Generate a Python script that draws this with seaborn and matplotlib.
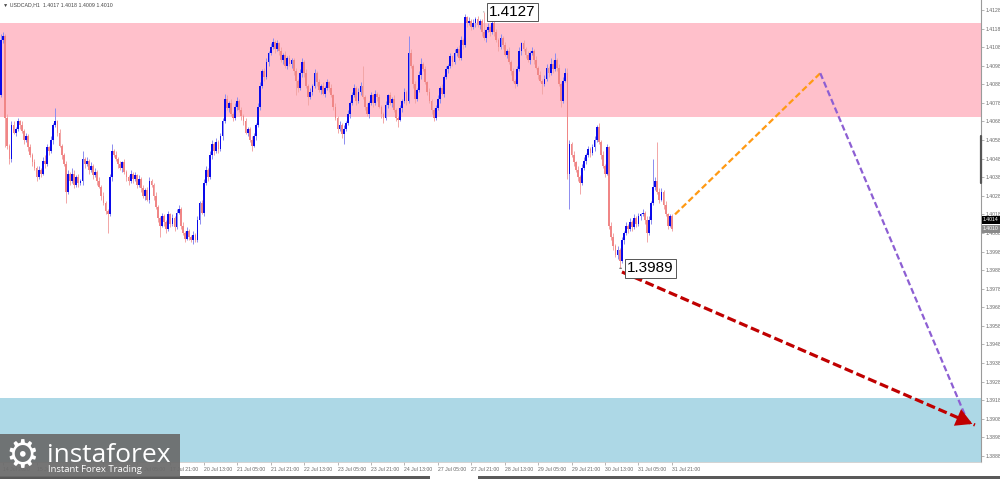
import numpy as np
import pandas as pd
import matplotlib.pyplot as plt
from matplotlib.patches import Rectangle
import seaborn as sns

# USDCAD H1 candles, 14 Jul 13:00 .. 31 Jul 21:00
first_open = 1.4082
closes = [
    1.4112, 1.4114, 1.4070, 1.4055, 1.4048, 1.4066, 1.4062, 1.4064, 1.4068, 1.4066,
    1.4063, 1.4058, 1.4060, 1.4054, 1.4050, 1.4046, 1.4043, 1.4038,
    1.4042, 1.4040, 1.4047, 1.4045, 1.4054, 1.4052, 1.4058, 1.4066, 1.4068,
    1.4062, 1.4055, 1.4050, 1.4045, 1.4030,
    1.4040, 1.4036, 1.4040, 1.4034, 1.4038, 1.4035, 1.4036, 1.4048,
    1.4045, 1.4047, 1.4042, 1.4044, 1.4039, 1.4041, 1.4036, 1.4033,
    1.4028, 1.4024, 1.4020, 1.4018, 1.4038, 1.4052, 1.4050,
    1.4048, 1.4045, 1.4043, 1.4046, 1.4041, 1.4038,
    1.4036, 1.4040, 1.4037, 1.4039, 1.4034, 1.4037,
    1.4032, 1.4028, 1.4031, 1.4026, 1.4036, 1.4034,
    1.4028, 1.4022, 1.4016, 1.4012, 1.4017, 1.4014,
    1.4010, 1.4018, 1.4013, 1.4016, 1.4011, 1.4019, 1.4021, 1.4012,
    1.4008, 1.4005, 1.4009, 1.4006, 1.4004, 1.4007, 1.4004,
    1.4015, 1.4024, 1.4019, 1.4035,
    1.4042, 1.4038, 1.4050, 1.4056,
    1.4052, 1.4057, 1.4053, 1.4060, 1.4068, 1.4080,
    1.4075, 1.4078, 1.4072, 1.4070, 1.4076, 1.4079, 1.4074, 1.4071,
    1.4068, 1.4062, 1.4064, 1.4058, 1.4055,
    1.4060, 1.4066, 1.4076, 1.4087, 1.4095, 1.4092, 1.4100, 1.4105, 1.4108,
    1.4111, 1.4107, 1.4110, 1.4106,
    1.4101, 1.4104, 1.4098, 1.4102, 1.4099, 1.4101,
    1.4095, 1.4090, 1.4086, 1.4094, 1.4100,
    1.4094, 1.4087, 1.4081, 1.4084, 1.4087, 1.4094, 1.4089, 1.4085, 1.4087, 1.4083, 1.4086,
    1.4089, 1.4086,
    1.4082, 1.4076, 1.4070, 1.4064, 1.4066, 1.4061, 1.4064, 1.4067,
    1.4072, 1.4078, 1.4082,
    1.4086, 1.4079, 1.4084, 1.4087, 1.4081,
    1.4076, 1.4072, 1.4078, 1.4082, 1.4078, 1.4083, 1.4081, 1.4076, 1.4072, 1.4070,
    1.4077, 1.4082, 1.4078, 1.4080, 1.4074, 1.4070, 1.4069,
    1.4075, 1.4079, 1.4084, 1.4079, 1.4105,
    1.4098, 1.4088, 1.4080, 1.4085,
    1.4093, 1.4099, 1.4096, 1.4089, 1.4084,
    1.4079, 1.4074, 1.4070, 1.4075,
    1.4080, 1.4086, 1.4083, 1.4092, 1.4096,
    1.4098, 1.4103, 1.4100, 1.4105, 1.4107, 1.4102,
    1.4112, 1.4109, 1.4124, 1.4121, 1.4122, 1.4119, 1.4121, 1.4123, 1.4120, 1.4122,
    1.4116, 1.4113, 1.4117, 1.4119, 1.4116, 1.4121, 1.4116, 1.4112, 1.4108, 1.4113, 1.4109,
    1.4104, 1.4106, 1.4100, 1.4095, 1.4090, 1.4088, 1.4096,
    1.4106, 1.4110, 1.4107, 1.4104, 1.4101, 1.4105, 1.4106,
    1.4101, 1.4097, 1.4093, 1.4090, 1.4088, 1.4091,
    1.4097, 1.4094, 1.4099, 1.4096, 1.4101, 1.4097, 1.4088, 1.4079, 1.4090, 1.4094,
    1.4040, 1.4056, 1.4050, 1.4046, 1.4042, 1.4038, 1.4035, 1.4043,
    1.4047, 1.4050, 1.4053, 1.4051, 1.4054, 1.4058, 1.4065,
    1.4057, 1.4050, 1.4044, 1.4040, 1.4054,
    1.4012, 1.4006,
    1.4001, 1.3996, 1.3999, 1.3993, 1.4004, 1.4008, 1.4012,
    1.4010, 1.4014, 1.4011, 1.4016, 1.4013, 1.4017, 1.4018, 1.4019, 1.4015, 1.4008, 1.4015, 1.4024,
    1.4033, 1.4036, 1.4030, 1.4026, 1.4030, 1.4023, 1.4018, 1.4012, 1.4017, 1.4010,
]
# wick lengths above / below the body, in pips
up_wick = [
    3, 2, 1, 2, 1, 2, 2, 1, 2, 1,
    2, 1, 2, 1, 2, 1, 2, 1,
    2, 1, 2, 3, 2, 1, 2, 1, 7,
    1, 2, 1, 1, 2,
    2, 1, 3, 2, 1, 2, 1, 4,
    1, 2, 1, 2, 1, 2, 1, 2,
    1, 2, 1, 1, 2, 4, 1,
    2, 1, 2, 1, 2, 1,
    1, 2, 1, 2, 1, 2,
    1, 2, 1, 2, 2, 1,
    1, 2, 1, 1, 2, 1,
    1, 2, 1, 2, 1, 2, 2, 1,
    2, 1, 2, 1, 1, 2, 1,
    2, 1, 2, 2,
    2, 1, 2, 2,
    1, 2, 1, 2, 2, 3,
    2, 1, 2, 1, 2, 2, 1, 2,
    1, 2, 1, 1, 2,
    2, 1, 2, 2, 1, 2, 2, 1, 2,
    2, 1, 2, 1,
    2, 1, 2, 1, 2, 1,
    1, 2, 1, 2, 2,
    1, 2, 1, 2, 1, 2, 1, 2, 1, 2, 1,
    2, 1,
    2, 1, 2, 1, 2, 1, 2, 1,
    2, 1, 2,
    2, 1, 2, 2, 11,
    1, 2, 1, 2, 1, 2, 1, 2, 1, 1,
    2, 1, 2, 1, 2, 1, 1,
    2, 1, 2, 1, 9,
    2, 1, 2, 1,
    2, 3, 1, 2, 1,
    2, 1, 1, 2,
    2, 1, 2, 1, 2,
    1, 2, 1, 2, 1, 2,
    2, 1, 2, 1, 2, 1, 2, 1, 2, 1,
    1, 11, 1, 2, 1, 2, 1, 2, 1, 2, 1,
    2, 1, 2, 1, 2, 1, 2,
    2, 1, 2, 1, 2, 1, 2,
    1, 2, 1, 2, 1, 2,
    2, 1, 3, 2, 4, 1, 2, 1, 2, 3,
    3, 2, 1, 2, 1, 2, 1, 2,
    2, 1, 2, 1, 2, 2, 1,
    2, 1, 2, 1, 2,
    1, 2,
    2, 1, 2, 1, 2, 1, 2,
    1, 2, 1, 2, 1, 2, 1, 2, 1, 2, 2, 1,
    15, 2, 21, 2, 2, 1, 2, 1, 1, 1,
]
down_wick = [
    1, 2, 16, 2, 3, 2, 1, 2, 1, 2,
    1, 2, 1, 2, 1, 2, 1, 2,
    1, 2, 1, 2, 1, 2, 1, 2, 1,
    2, 1, 2, 1, 6,
    1, 2, 1, 2, 1, 2, 1, 2,
    2, 1, 2, 1, 2, 1, 2, 1,
    2, 1, 2, 10, 1, 2, 1,
    1, 2, 1, 2, 1, 2,
    2, 1, 2, 1, 2, 1,
    2, 1, 2, 1, 2, 1,
    2, 1, 2, 6, 1, 2,
    2, 1, 2, 1, 2, 1, 1, 2,
    1, 2, 1, 2, 1, 2, 1,
    1, 2, 1, 2,
    1, 2, 1, 2,
    2, 1, 2, 1, 2, 1,
    1, 2, 1, 2, 1, 2, 1, 2,
    2, 1, 2, 1, 3,
    1, 2, 1, 2, 1, 2, 1, 2, 1,
    1, 2, 1, 2,
    1, 2, 1, 2, 1, 2,
    2, 8, 2, 1, 2,
    2, 1, 4, 1, 2, 1, 2, 1, 2, 1, 2,
    1, 2,
    1, 2, 1, 2, 1, 2, 5, 1,
    1, 2, 1,
    1, 2, 1, 2, 1,
    2, 1, 2, 1, 2, 1, 2, 1, 2, 3,
    1, 2, 1, 2, 1, 2, 4,
    1, 2, 1, 2, 1,
    1, 2, 2, 1,
    1, 2, 1, 1, 2,
    1, 2, 2, 1,
    1, 2, 1, 2, 1,
    2, 1, 2, 1, 2, 1,
    1, 2, 1, 2, 1, 2, 1, 2, 1, 2,
    2, 1, 2, 1, 2, 1, 2, 1, 2, 1, 2,
    1, 2, 1, 2, 1, 2, 1,
    1, 2, 1, 2, 1, 2, 1,
    2, 1, 2, 1, 5, 1,
    1, 2, 1, 2, 1, 2, 1, 3, 1, 1,
    3, 19, 1, 2, 1, 2, 6, 1,
    1, 2, 1, 2, 1, 2, 1,
    1, 2, 1, 2, 1,
    2, 2,
    2, 1, 2, 4, 1, 2, 1,
    2, 1, 2, 1, 2, 1, 2, 1, 2, 5, 1, 2,
    1, 2, 1, 2, 1, 2, 1, 2, 1, 1,
]

resist_low, resist_high = 1.40702, 1.41208
support_top = 1.39192

price_ticks = [1.3888, 1.3898, 1.3908, 1.3918, 1.3928, 1.3938, 1.3948, 1.3958,
               1.3968, 1.3978, 1.3988, 1.3998, 1.4008, 1.4018, 1.4028, 1.4038,
               1.4048, 1.4058, 1.4068, 1.4078, 1.4088, 1.4098, 1.4108, 1.4118, 1.4128]
date_ticks = [1, 17, 33, 49, 65, 81, 97, 113, 129, 145, 161, 177, 193, 209,
              225, 241, 257, 273, 289, 305, 321]
date_labels = ['14 Jul 2020', '15 Jul 05:00', '15 Jul 21:00', '16 Jul 13:00',
               '17 Jul 05:00', '17 Jul 21:00', '20 Jul 13:00', '21 Jul 05:00',
               '21 Jul 21:00', '22 Jul 13:00', '23 Jul 05:00', '23 Jul 21:00',
               '24 Jul 13:00', '27 Jul 05:00', '27 Jul 21:00', '28 Jul 13:00',
               '29 Jul 05:00', '29 Jul 21:00', '30 Jul 13:00', '31 Jul 05:00',
               '31 Jul 21:00']

# forecast paths (bar index, price)
orange_x, orange_y = [322.5, 392.0], [1.4018, 1.4094]
purple_x, purple_y = [392.0, 461.2], [1.4094, 1.3910]
red_x, red_y = [297.1, 466.0], [1.3987, 1.39046]

hi_bar, hi_price = 231, 1.4127
lo_bar, lo_price = 296, 1.3989

sns.set_theme(style='white')
plt.rcParams['font.family'] = ['Liberation Sans', 'DejaVu Sans']

df = pd.DataFrame({'close': closes, 'up': up_wick, 'dn': down_wick})
df['open'] = df['close'].shift(1).fillna(first_open)
df['top'] = df[['open', 'close']].max(axis=1)
df['bot'] = df[['open', 'close']].min(axis=1)
df['high'] = df['top'] + df['up'] * 0.0001
df['low'] = df['bot'] - df['dn'] * 0.0001
bull = (df['close'] >= df['open']).values
x = np.arange(len(df))

fig = plt.figure(figsize=(10, 4.79), dpi=100)
ax = fig.add_axes([0, 17 / 479, 0.981, 462 / 479])

ax.axhspan(resist_low, resist_high, color='#ffc0cb', lw=0, zorder=0)
ax.axhspan(1.3870, support_top, color='#add8e6', lw=0, zorder=0)

ax.vlines(x, df['low'], df['high'], colors=np.where(bull, '#8c8cf0', '#f2a6a6'),
          lw=0.7, zorder=2)
ax.bar(x, np.maximum(df['top'] - df['bot'], 0.00005), bottom=df['bot'], width=0.85,
       color=np.where(bull, '#0a0aea', '#f08686'), lw=0, zorder=3)

# forecast lines
fc = pd.DataFrame({'x': orange_x, 'y': orange_y})
sns.lineplot(data=fc, x='x', y='y', ax=ax, color='#ff9a14', lw=1.6, sort=False,
             linestyle=(0, (2.8, 1.4)), zorder=5)
fc = pd.DataFrame({'x': purple_x, 'y': purple_y})
sns.lineplot(data=fc, x='x', y='y', ax=ax, color='#8d5fd3', lw=1.6, sort=False,
             linestyle=(0, (2.8, 1.4)), zorder=5)
ax.plot(red_x, red_y, color='#c00000', lw=2.3, linestyle=(0, (2.8, 1.2)), zorder=6)
slope = (red_y[1] - red_y[0]) / (red_x[1] - red_x[0])
ax.annotate('', xy=(red_x[1], red_y[1]), xytext=(red_x[1] - 8, red_y[1] - 8 * slope),
            arrowprops=dict(arrowstyle='-|>,head_length=0.9,head_width=0.5',
                            color='#c00000', lw=0, mutation_scale=13), zorder=7)

# extreme labels
box = dict(boxstyle='square,pad=0.15', fc='white', ec='#555555', lw=0.7)
ax.annotate('1.4127', xy=(hi_bar, hi_price), xytext=(hi_bar + 2.6, hi_price),
            ha='left', va='center', fontsize=11, color='black', bbox=box,
            arrowprops=dict(arrowstyle='-', color='#555555', lw=0.7), zorder=8)
ax.annotate('1.3989', xy=(lo_bar, lo_price), xytext=(lo_bar + 3.5, lo_price),
            ha='left', va='center', fontsize=11, color='black', bbox=box,
            arrowprops=dict(arrowstyle='-', color='#555555', lw=0.7), zorder=8)

ax.text(0.003, 0.995, '\u25bc USDCAD,H1  1.4017 1.4018 1.4009 1.4010',
        transform=ax.transAxes, fontsize=3.8, color='#444444', va='top', ha='left')

ax.set_xlim(-0.5, 468.9)
ax.set_ylim(1.38847, 1.41334)

ax.yaxis.tick_right()
ax.set_yticks(price_ticks)
ax.set_yticklabels([f'{p:.4f}' for p in price_ticks])
ax.tick_params(axis='y', right=True, length=2, width=0.5, color='#999999',
               labelsize=3.7, labelcolor='#666666', pad=1)
ax.set_xticks(date_ticks)
ax.set_xticklabels(date_labels)
for lab in ax.get_xticklabels():
    lab.set_ha('left')
ax.tick_params(axis='x', bottom=True, length=2, width=0.5, color='#999999',
               labelsize=3.7, labelcolor='#666666', pad=1.5)
ax.set_xlabel('')
ax.set_ylabel('')
for side in ['top', 'left']:
    ax.spines[side].set_visible(False)
ax.spines['right'].set_color('#9a9a9a')
ax.spines['right'].set_linewidth(0.8)
ax.spines['bottom'].set_color('#cccccc')
ax.spines['bottom'].set_linewidth(0.6)

# current price boxes
ytr = ax.get_yaxis_transform()
ax.text(1.002, 1.4015, '1.4014', transform=ytr, fontsize=3.7, color='white',
        va='center', ha='left', clip_on=False,
        bbox=dict(boxstyle='square,pad=0.25', fc='black', ec='black', lw=0))
ax.text(1.002, 1.40102, '1.4010', transform=ytr, fontsize=3.7, color='white',
        va='center', ha='left', clip_on=False,
        bbox=dict(boxstyle='square,pad=0.25', fc='#8a8a8a', ec='#8a8a8a', lw=0))
ax.plot([1, 1], [1.4060, 1.4035], transform=ytr, color='#555555', lw=1.6,
        clip_on=False, zorder=9)

# bottom strip
fig.add_artist(Rectangle((0, 0), 0.43, 3 / 479, transform=fig.transFigure,
                         color='#5a5a5a', lw=0))
fig.add_artist(Rectangle((0.478, 0), 0.522, 3 / 479, transform=fig.transFigure,
                         color='#5a5a5a', lw=0))

# logo
fig.add_artist(Rectangle((0, 2 / 479), 0.18, 43 / 479, transform=fig.transFigure,
                         color='#6b6b6b', alpha=0.93, lw=0, zorder=10))
fig.text(0.022, 22 / 479, '\u2699', fontsize=27, color='white', family='DejaVu Sans',
         ha='center', va='center', zorder=11)
fig.text(0.047, 17 / 479, 'instaforex', fontsize=19, color='white', family='Open Sans',
         ha='left', va='baseline', zorder=11)
fig.text(0.048, 9 / 479, 'Instant Forex Trading', fontsize=6.8, color='white',
         family='Open Sans', ha='left', va='center', zorder=11)

fig.savefig('out.png', dpi=100)
